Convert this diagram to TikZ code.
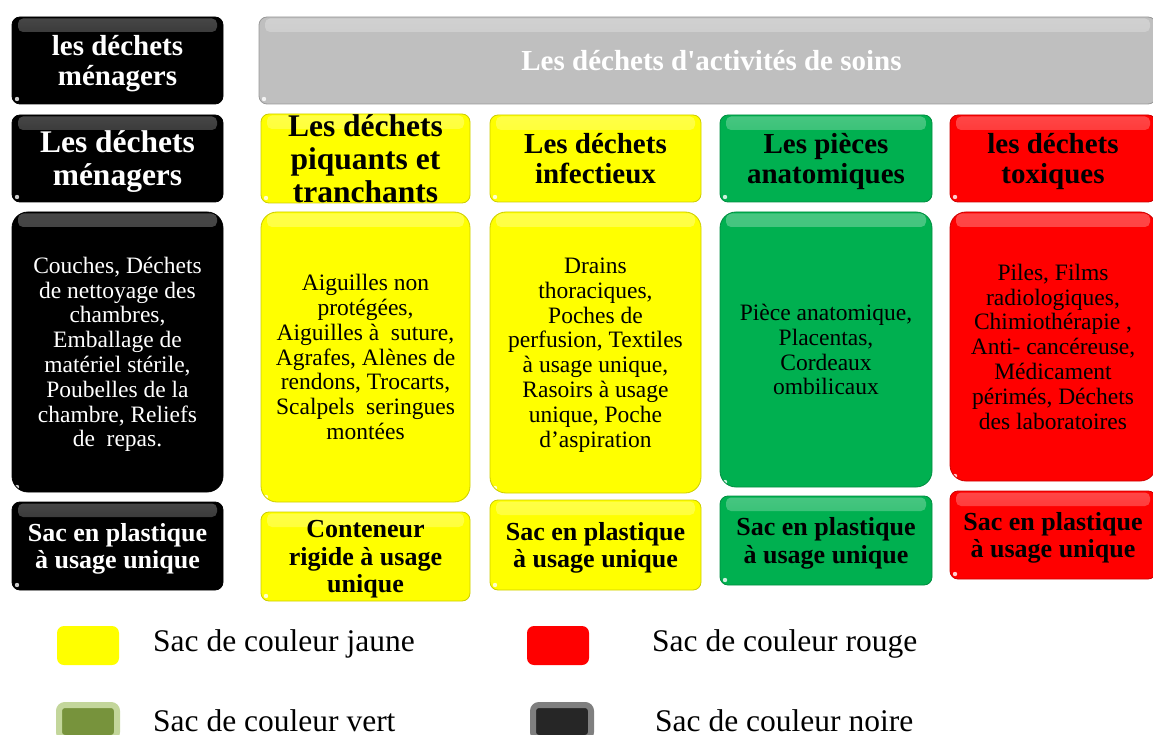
\documentclass[tikz,border=0pt]{standalone}
\usepackage{fontspec}
\setmainfont{Liberation Serif}
\definecolor{cYel}{HTML}{FFFF00}
\definecolor{cGrn}{HTML}{00B050}
\definecolor{cRed}{HTML}{FF0000}
\definecolor{cBlk}{HTML}{000000}
\definecolor{cGry}{HTML}{BFBFBF}
\definecolor{lgGrnIn}{HTML}{77933C}
\definecolor{lgGrnOut}{HTML}{C3D69B}
\definecolor{lgBlkIn}{HTML}{262626}
\definecolor{lgBlkOut}{HTML}{7F7F7F}
\newcommand\myBody{\fontsize{23.5}{24.8}\selectfont}
\newcommand\myHeadA{\bfseries\fontsize{31.5}{33}\selectfont}
\newcommand\myHeadB{\bfseries\fontsize{29}{30.5}\selectfont}
\newcommand\myBag{\bfseries\fontsize{26}{27.5}\selectfont}
\newcommand\myLeg{\fontsize{31.5}{33}\selectfont}
\tikzset{
  gbox/.style={fill=#1, draw=#1!80!black, line width=0.8pt, inner sep=0pt, align=center, text depth=0pt,
    path picture={
      \shade[rounded corners=5pt, top color=#1!72!white, bottom color=#1]
        ([xshift=6pt,yshift=-1.5pt]path picture bounding box.north west) rectangle
        ([xshift=-6pt,yshift=-15pt]path picture bounding box.north east);
      \fill[white, opacity=0.8]
        ([xshift=5pt,yshift=5pt]path picture bounding box.south west) circle (2.2pt);
    }},
  small/.style={rounded corners=8pt},
  big/.style={rounded corners=16pt},
  legsq/.style={rounded corners=7pt, minimum width=62pt, minimum height=39pt, inner sep=0pt},
  legsqb/.style={rounded corners=6pt, line width=6pt, minimum width=58pt, minimum height=33pt, inner sep=0pt},
  legtxt/.style={anchor=base west, inner sep=0pt, font=\myLeg}
}
\begin{document}
\begin{tikzpicture}[x=1pt,y=-1pt]
\useasboundingbox (0,0) rectangle (1153,735);
% row 1
\node[gbox=cBlk, small, minimum width=211pt, minimum height=87pt, text=white, font=\myHeadB] (r1a) at (117.5,60.5) {les déchets\\ménagers};
\node[gbox=cGry, small, minimum width=897pt, minimum height=87pt, text=white, font=\bfseries\fontsize{29}{30}\selectfont] (r1b) at (707.5,60.5) {\hspace*{8pt}Les déchets d\textquotesingle activités de soins};
% row 2
\node[gbox=cBlk, small, minimum width=211pt, minimum height=87pt, text=white, font=\myHeadA] (r2a) at (117.5,158.5) {Les déchets\\ménagers};
\node[gbox=cYel, small, minimum width=209pt, minimum height=89pt, font=\myHeadA] (r2b) at (365.5,158.5) {Les déchets\\piquants et\\tranchants};
\node[gbox=cYel, small, minimum width=211pt, minimum height=87pt, font=\myHeadB] (r2c) at (595.5,158.5) {Les déchets\\infectieux};
\node[gbox=cGrn, small, minimum width=212pt, minimum height=87pt, font=\myHeadB] (r2d) at (826,158.5) {Les pièces\\anatomiques};
\node[gbox=cRed, small, minimum width=206pt, minimum height=87pt, font=\myHeadB] (r2e) at (1053,158.5) {les déchets\\toxiques};
% row 3
\node[gbox=cBlk, big, minimum width=211pt, minimum height=280pt, text=white, font=\myBody] (r3a) at (117.5,352) {Couches, Déchets\\de nettoyage des\\chambres,\\Emballage de\\matériel stérile,\\Poubelles de la\\chambre, Reliefs\\de\ \ repas.};
\node[gbox=cYel, big, minimum width=209pt, minimum height=290pt, font=\myBody] (r3b) at (365.5,357) {Aiguilles non\\protégées,\\Aiguilles à\ \ suture,\\Agrafes, Alènes de\\rendons, Trocarts,\\Scalpels\ \ seringues\\montées};
\node[gbox=cYel, big, minimum width=211pt, minimum height=281pt, font=\myBody] (r3c) at (595.5,352.5) {Drains\\thoraciques,\\Poches de\\perfusion, Textiles\\à usage unique,\\Rasoirs à usage\\unique, Poche\\d’aspiration};
\node[gbox=cGrn, big, minimum width=212pt, minimum height=275pt, font=\myBody] (r3d) at (826,349.5) {Pièce anatomique,\\Placentas,\\Cordeaux\\ombilicaux};
\node[gbox=cRed, big, minimum width=206pt, minimum height=269pt, font=\myBody] (r3e) at (1053,346.5) {Piles, Films\\radiologiques,\\Chimiothérapie ,\\Anti- cancéreuse,\\Médicament\\périmés, Déchets\\des laboratoires};
% row 4
\node[gbox=cBlk, small, minimum width=211pt, minimum height=88pt, text=white, font=\myBag] (r4a) at (117.5,546) {Sac en plastique\\à usage unique};
\node[gbox=cYel, small, minimum width=209pt, minimum height=89pt, font=\myBag] (r4b) at (365.5,556.5) {Conteneur\\rigide à usage\\unique};
\node[gbox=cYel, small, minimum width=211pt, minimum height=90pt, font=\myBag] (r4c) at (595.5,545) {Sac en plastique\\à usage unique};
\node[gbox=cGrn, small, minimum width=212pt, minimum height=89pt, font=\myBag] (r4d) at (826,540.5) {Sac en plastique\\à usage unique};
\node[gbox=cRed, small, minimum width=206pt, minimum height=88pt, font=\myBag] (r4e) at (1053,535) {Sac en plastique\\à usage unique};
% legend
\node[legsq, fill=cYel] (lgY) at (88,645.5) {};
\node[legsq, fill=cRed] (lgR) at (558,645.5) {};
\node[legsqb, fill=lgGrnIn, draw=lgGrnOut] (lgG) at (88,721.5) {};
\node[legsqb, fill=lgBlkIn, draw=lgBlkOut] (lgK) at (562,721.5) {};
\node[legtxt] (tY) at (153,651) {Sac de couleur jaune};
\node[legtxt] (tR) at (652,651) {Sac de couleur rouge};
\node[legtxt] (tG) at (153,731) {Sac de couleur vert};
\node[legtxt] (tK) at (655,731) {Sac de couleur noire};
\end{tikzpicture}
\end{document}
